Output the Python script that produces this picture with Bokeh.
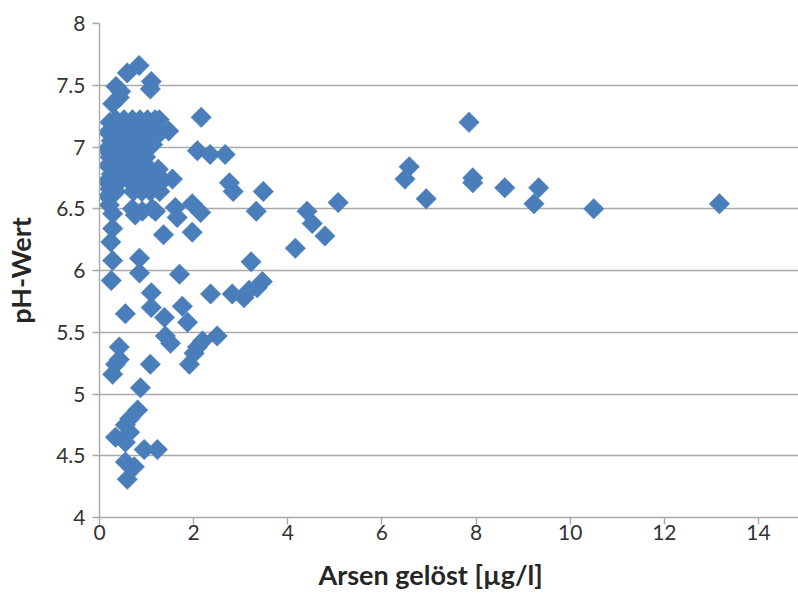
import math
from bokeh.plotting import figure
from bokeh.models import FixedTicker, CustomJSTickFormatter, Range1d, ColumnDataSource, Title
from bokeh.embed import file_html
from bokeh.resources import INLINE

# ---- data ----
arsen = [
    # top cluster
    0.84, 0.59, 1.10, 1.08, 0.35, 0.42, 0.28, 0.45,
    # left edge column
    0.22, 0.18, 0.25, 0.15, 0.22, 0.18, 0.25, 0.15, 0.22, 0.18, 0.21, 0.28, 0.28, 0.24, 0.28, 0.25,
    # dense block
    0.35, 0.52, 0.70, 0.86, 1.02, 1.18, 1.27,
    0.42, 0.60, 0.78, 0.95, 1.12, 1.30, 1.47,
    0.35, 0.52, 0.70, 0.88, 1.05, 1.13,
    0.42, 0.60, 0.80, 0.98,
    0.35, 0.55, 0.72, 0.90, 1.08, 1.25,
    0.45, 0.62, 0.82, 1.00, 1.18, 1.35, 1.55,
    0.35, 0.72, 0.90, 1.08, 1.28,
    # around 6.5 and below
    0.70, 0.76, 0.91, 1.12, 1.19, 1.61, 1.65, 1.97, 2.15,
    1.97, 1.36, 0.85, 0.85, 1.70, 2.36, 2.82, 3.07, 3.18, 3.35, 3.46, 3.22,
    1.10, 1.10, 0.55, 1.38, 1.76, 1.87, 1.40, 1.51, 2.50, 2.19, 2.08, 2.01, 1.91,
    0.42, 0.42, 0.34, 0.28, 1.08, 0.87, 0.81, 0.64, 0.55, 0.64, 0.34, 0.55,
    0.95, 1.23, 0.55, 0.74, 0.59,
    # right side
    2.16, 2.08, 2.35, 2.67, 2.76, 2.84, 3.48, 3.33,
    4.41, 4.52, 4.79, 5.07, 4.16, 6.58, 6.49, 6.94, 7.85, 7.93, 7.93,
    8.61, 9.33, 9.23, 10.50, 13.17,
]
ph = [
    7.66, 7.60, 7.53, 7.47, 7.49, 7.40, 7.35, 7.45,
    7.20, 7.12, 7.05, 6.98, 6.92, 6.85, 6.78, 6.72, 6.66, 6.60, 6.53, 6.46, 6.34, 6.23, 6.08, 5.92,
    7.22, 7.22, 7.22, 7.22, 7.22, 7.22, 7.22,
    7.12, 7.12, 7.12, 7.12, 7.12, 7.12, 7.13,
    7.02, 7.02, 7.02, 7.02, 7.02, 7.02,
    6.92, 6.92, 6.92, 6.92,
    6.82, 6.82, 6.82, 6.82, 6.82, 6.82,
    6.73, 6.73, 6.73, 6.73, 6.73, 6.73, 6.74,
    6.64, 6.64, 6.64, 6.64, 6.64,
    6.50, 6.45, 6.48, 6.50, 6.48, 6.51, 6.43, 6.54, 6.47,
    6.31, 6.29, 6.10, 5.98, 5.97, 5.81, 5.81, 5.78, 5.84, 5.86, 5.91, 6.07,
    5.82, 5.70, 5.65, 5.62, 5.71, 5.58, 5.47, 5.41, 5.47, 5.43, 5.38, 5.33, 5.24,
    5.38, 5.28, 5.24, 5.16, 5.24, 5.05, 4.87, 4.80, 4.75, 4.69, 4.65, 4.61,
    4.55, 4.55, 4.45, 4.41, 4.31,
    7.24, 6.97, 6.94, 6.94, 6.71, 6.64, 6.64, 6.48,
    6.48, 6.38, 6.28, 6.55, 6.18, 6.84, 6.74, 6.58, 7.20, 6.75, 6.71,
    6.67, 6.67, 6.54, 6.50, 6.54,
]
x_ticks = [0, 2, 4, 6, 8, 10, 12, 14]
y_ticks = [4, 4.5, 5, 5.5, 6, 6.5, 7, 7.5, 8]
x_title = "Arsen gelöst [µg/l]"
y_title = "pH-Wert"

FONT = "Lato"
BLUE = "#4A7EBB"
GRID = "#a9a9a9"

p = figure(width=798, height=603, output_backend="svg", toolbar_location=None,
           x_range=Range1d(0, 14.85), y_range=Range1d(4, 8),
           min_border_left=99, min_border_right=0, min_border_top=23, min_border_bottom=86)
p.outline_line_color = None
p.background_fill_color = "white"
p.border_fill_color = "white"

src = ColumnDataSource(dict(x=arsen, y=ph))
p.scatter("x", "y", source=src, marker="square", angle=math.pi / 4, size=14.5,
          fill_color=BLUE, line_color=BLUE, line_width=0.5)

# grid
p.xgrid.visible = False
p.ygrid.grid_line_color = GRID
p.ygrid.grid_line_width = 1.4
p.ygrid.ticker = FixedTicker(ticks=y_ticks)

fmt = CustomJSTickFormatter(code="return String(tick);")

xa = p.xaxis[0]
xa.ticker = FixedTicker(ticks=x_ticks)
xa.formatter = fmt
xa.major_label_text_font = FONT
xa.major_label_text_font_size = "21px"
xa.major_label_text_color = "#333333"
xa.major_label_standoff = 0
xa.axis_line_color = GRID
xa.axis_line_width = 1.4
xa.major_tick_line_color = GRID
xa.major_tick_line_width = 1.4
xa.major_tick_out = 7
xa.major_tick_in = 0
xa.minor_tick_line_color = None

xt = Title(text=x_title, align="left", offset=219, standoff=26,
           text_font=FONT, text_font_style="bold", text_font_size="27px",
           text_color="#262626", text_line_height=0.8)
p.add_layout(xt, "below")

ya = p.yaxis[0]
ya.ticker = FixedTicker(ticks=y_ticks)
ya.formatter = fmt
ya.axis_label = y_title
ya.axis_label_text_font = FONT
ya.axis_label_text_font_style = "bold"
ya.axis_label_text_font_size = "27px"
ya.axis_label_text_color = "#262626"
ya.axis_label_standoff = 16
ya.major_label_text_font = FONT
ya.major_label_text_font_size = "21px"
ya.major_label_text_color = "#333333"
ya.major_label_standoff = 7
ya.axis_line_color = GRID
ya.axis_line_width = 1.4
ya.major_tick_line_color = GRID
ya.major_tick_line_width = 1.4
ya.major_tick_out = 7
ya.major_tick_in = 0
ya.minor_tick_line_color = None

open("out.html", "w").write(file_html(p, INLINE))
